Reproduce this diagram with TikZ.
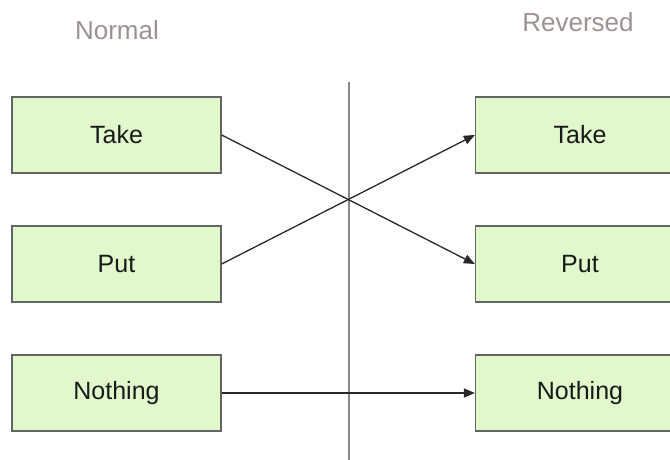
\documentclass[tikz,border=0pt]{standalone}
\usepackage{fontspec}
\setmainfont{Liberation Sans}
\usetikzlibrary{arrows.meta}
\definecolor{boxfill}{RGB}{224,248,204}
\definecolor{boxline}{RGB}{100,100,100}
\definecolor{labelgray}{RGB}{155,145,145}
\definecolor{divider}{RGB}{135,135,135}
\definecolor{conn}{RGB}{40,40,40}
\begin{document}
\begin{tikzpicture}[x=1pt,y=-1pt,
  opbox/.style={draw=boxline,line width=1.3pt,fill=boxfill,minimum width=209pt,minimum height=76pt,inner sep=0pt,font=\fontsize{25}{30}\selectfont,text=black!90},
  headlabel/.style={text=labelgray,font=\fontsize{26}{31}\selectfont},
  connector/.style={draw=conn,line width=1.3pt,-{Triangle[length=11pt,width=9pt]}}]
\useasboundingbox (0,0) rectangle (670,460);
\node[headlabel] (normal) at (117,30) {Normal};
\node[headlabel] (reversed) at (578,22) {Reversed};
\coordinate (divtop) at (349,82);
\coordinate (divbot) at (349,462);
\draw[divider,line width=1.3pt] (divtop) -- (divbot);
\node[opbox] (ltake) at (116.5,135) {Take};
\node[opbox] (lput) at (116.5,264) {Put};
\node[opbox] (lnothing) at (116.5,393) {Nothing};
\node[opbox] (rtake) at (580,135) {Take};
\node[opbox] (rput) at (580,264) {Put};
\node[opbox] (rnothing) at (580,393) {Nothing};
\draw[connector] (ltake.east) -- (rput.west);
\draw[connector] (lput.east) -- (rtake.west);
\draw[connector] (lnothing.east) -- (rnothing.west);
\end{tikzpicture}
\end{document}
